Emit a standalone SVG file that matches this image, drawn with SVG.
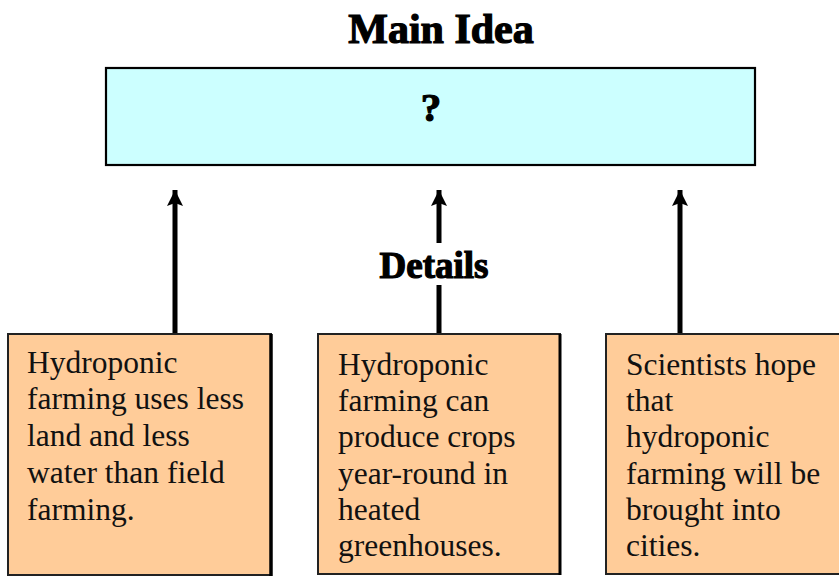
<svg xmlns="http://www.w3.org/2000/svg" width="839" height="576" viewBox="0 0 839 576">
<style>
.title{font-family:"Liberation Serif","Times New Roman",serif;font-weight:bold;fill:#000;stroke:#000;stroke-width:1.2;text-anchor:middle}
.body{font-family:"Liberation Serif","Times New Roman",serif;font-size:31.5px;fill:#111}
.detail{fill:#FFCC99;stroke:#222;stroke-width:2}
.stem{stroke:#000;stroke-width:5;fill:none}
.head{fill:#000}
</style>
<defs>
<marker id="ah" markerUnits="userSpaceOnUse" markerWidth="18" markerHeight="18" refX="16" refY="9" orient="auto" viewBox="0 0 18 18">
<path d="M16 9 L0 1 L3 9 L0 17 Z" class="head"/>
</marker>
</defs>
<rect width="839" height="576" fill="#fff"/>
<text class="title" x="441" y="43" font-size="42">Main Idea</text>
<g id="main">
<rect x="106" y="68" width="649" height="97" fill="#CCFFFF" stroke="#000" stroke-width="2.2"/>
<text class="title" x="431" y="121" font-size="41" stroke-width="0.4">?</text>
</g>
<text class="title" x="434" y="278" font-size="37">Details</text>
<g id="connectors">
<line class="stem" x1="175" y1="333" x2="175" y2="190" marker-end="url(#ah)"/>
<line class="stem" x1="439" y1="243" x2="439" y2="190" marker-end="url(#ah)"/>
<line class="stem" x1="439" y1="333" x2="439" y2="285"/>
<line class="stem" x1="680" y1="333" x2="680" y2="190" marker-end="url(#ah)"/>
</g>
<g id="detail1">
<rect class="detail" x="8" y="334" width="263" height="241"/>
<line x1="271" y1="334" x2="271" y2="576" stroke="#000" stroke-width="3.5"/>
<text class="body"><tspan x="27" y="373">Hydroponic</tspan><tspan x="27" y="409">farming uses less</tspan><tspan x="27" y="446">land and less</tspan><tspan x="27" y="483">water than field</tspan><tspan x="27" y="520">farming.</tspan></text>
</g>
<g id="detail2">
<rect class="detail" x="318" y="334" width="242" height="240"/>
<line x1="560" y1="334" x2="560" y2="575" stroke="#000" stroke-width="3"/>
<text class="body"><tspan x="338" y="375">Hydroponic</tspan><tspan x="338" y="411">farming can</tspan><tspan x="338" y="447">produce crops</tspan><tspan x="338" y="484">year-round in</tspan><tspan x="338" y="520">heated</tspan><tspan x="338" y="556">greenhouses.</tspan></text>
</g>
<g id="detail3">
<rect class="detail" x="606" y="334" width="240" height="240"/>
<text class="body"><tspan x="626" y="375">Scientists hope</tspan><tspan x="626" y="411">that</tspan><tspan x="626" y="447">hydroponic</tspan><tspan x="626" y="484">farming will be</tspan><tspan x="626" y="520">brought into</tspan><tspan x="626" y="556">cities.</tspan></text>
</g>
</svg>
